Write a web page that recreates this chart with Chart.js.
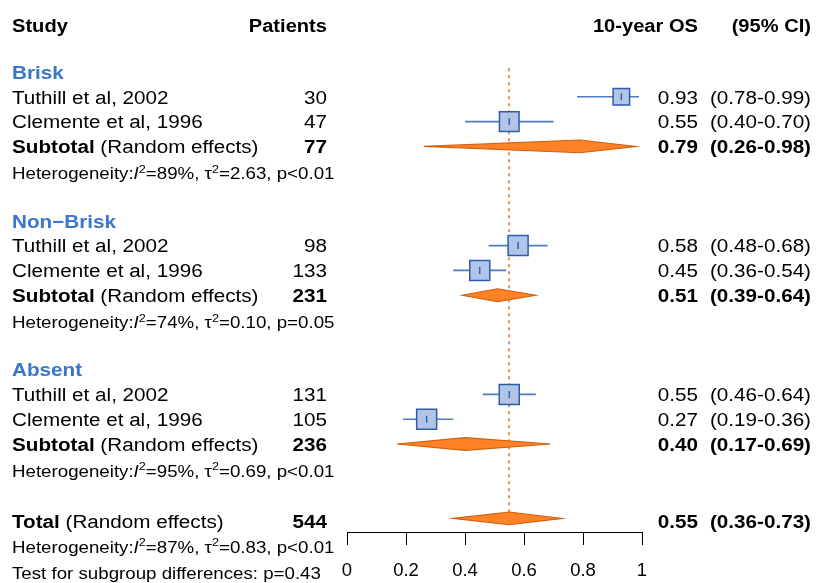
<!DOCTYPE html>
<html>
<head>
<meta charset="utf-8">
<script src="https://cdn.jsdelivr.net/npm/chart.js@4.4.1/dist/chart.umd.min.js"></script>
<style>
html,body{margin:0;padding:0;background:#fff;}
#wrap{width:816px;height:583px;}
</style>
</head>
<body>
<div id="wrap"><canvas id="c" width="816" height="583"></canvas></div>
<script>
// ---------- DATA ----------
const groups = ['Brisk', 'Non\u2212Brisk', 'Absent'];
const studies = ['Tuthill et al, 2002', 'Clemente et al, 1996'];
const patients = [[30, 47], [98, 133], [131, 105]];
const est = [[0.93, 0.55], [0.58, 0.45], [0.55, 0.27]];
const lo  = [[0.78, 0.40], [0.48, 0.36], [0.46, 0.19]];
const hi  = [[0.99, 0.70], [0.68, 0.54], [0.64, 0.36]];
const weights = [[0.68, 0.96], [1, 1], [1, 1]];
const subN = [77, 231, 236];
const subEst = [0.79, 0.51, 0.40];
const subLo = [0.26, 0.39, 0.17];
const subHi = [0.98, 0.64, 0.69];
const hetI2 = ['89', '74', '95'];
const hetTau2 = ['2.63', '0.10', '0.69'];
const hetP = ['p<0.01', 'p=0.05', 'p<0.01'];
const totalN = 544;
const totalEst = 0.55, totalLo = 0.36, totalHi = 0.73;
const totalI2 = '87', totalTau2 = '0.83', totalP = 'p<0.01';
const subgroupP = 'p=0.43';
const xTicks = [0, 0.2, 0.4, 0.6, 0.8, 1];

// ---------- LAYOUT (row indices) ----------
function groupBase(g){ return 2 + 6*g; }
const TOTAL_ROW = 20.1;

const FONT = "'Liberation Sans', Arial, Helvetica, sans-serif";
const STRETCH = 1.1;
const BLUE_HEAD = '#3a76cc';
const SQ_FILL = '#b2c5e9', SQ_LINE = '#2d5ca9', CI_LINE = '#4f7bc2';
const DIA_FILL = '#ff8226', DIA_LINE = '#d2600e';

// square points from data
const sqPoints = [], sqRadius = [];
groups.forEach((g, gi) => {
  studies.forEach((s, si) => {
    sqPoints.push({x: est[gi][si], y: groupBase(gi) + 1 + si});
    const side = 20 * Math.sqrt(weights[gi][si]);
    sqRadius.push(side / Math.SQRT2);
  });
});

function fmt2(v){ return v.toFixed(2); }

const forestPlugin = {
  id: 'forest',
  beforeDatasetsDraw(chart){
    const ctx = chart.ctx, xs = chart.scales.x, ys = chart.scales.y;
    // reference line at overall estimate
    ctx.save();
    ctx.strokeStyle = '#f07a30';
    ctx.lineWidth = 1.7;
    ctx.setLineDash([3, 4]);
    ctx.beginPath();
    const rx = Math.round(xs.getPixelForValue(totalEst));
    ctx.moveTo(rx, ys.getPixelForValue(1.85));
    ctx.lineTo(rx, ys.getPixelForValue(TOTAL_ROW));
    ctx.stroke();
    ctx.restore();
    // CI whiskers
    ctx.save();
    ctx.strokeStyle = CI_LINE;
    ctx.lineWidth = 1.6;
    groups.forEach((g, gi) => {
      studies.forEach((s, si) => {
        const y = ys.getPixelForValue(groupBase(gi) + 1 + si);
        ctx.beginPath();
        ctx.moveTo(xs.getPixelForValue(lo[gi][si]), y);
        ctx.lineTo(xs.getPixelForValue(hi[gi][si]), y);
        ctx.stroke();
      });
    });
    ctx.restore();
  },
  afterDatasetsDraw(chart){
    const ctx = chart.ctx, xs = chart.scales.x, ys = chart.scales.y;
    // small estimate ticks inside squares
    ctx.save();
    ctx.strokeStyle = SQ_LINE;
    ctx.lineWidth = 1.4;
    groups.forEach((g, gi) => {
      studies.forEach((s, si) => {
        const y = ys.getPixelForValue(groupBase(gi) + 1 + si);
        const x = xs.getPixelForValue(est[gi][si]);
        ctx.beginPath();
        ctx.moveTo(x, y - 3.5);
        ctx.lineTo(x, y + 3.5);
        ctx.stroke();
      });
    });
    ctx.restore();
    // diamonds
    function diamond(e, l, h, row){
      const y = ys.getPixelForValue(row);
      const hh = 6.4;
      ctx.save();
      ctx.fillStyle = DIA_FILL;
      ctx.strokeStyle = DIA_LINE;
      ctx.lineWidth = 1.1;
      ctx.beginPath();
      ctx.moveTo(xs.getPixelForValue(l), y);
      ctx.lineTo(xs.getPixelForValue(e), y - hh);
      ctx.lineTo(xs.getPixelForValue(h), y);
      ctx.lineTo(xs.getPixelForValue(e), y + hh);
      ctx.closePath();
      ctx.fill();
      ctx.stroke();
      ctx.restore();
    }
    groups.forEach((g, gi) => diamond(subEst[gi], subLo[gi], subHi[gi], groupBase(gi) + 3));
    diamond(totalEst, totalLo, totalHi, TOTAL_ROW - 0.1);
  },
  afterDraw(chart){
    const ctx = chart.ctx, ys = chart.scales.y;
    const X_LEFT = 12, X_PAT = 327, X_EST = 698, X_CI = 811;
    function baseY(row){ return ys.getPixelForValue(row) + 6.8; }
    function txt(s, x, row, opt){
      opt = opt || {};
      const size = opt.size || 18.8;
      ctx.save();
      ctx.font = (opt.italic ? 'italic ' : '') + (opt.bold ? 'bold ' : '') + size + 'px ' + FONT;
      ctx.fillStyle = opt.color || '#000';
      ctx.textAlign = opt.align || 'left';
      ctx.textBaseline = 'alphabetic';
      ctx.translate(x, baseY(row) + (opt.dy || 0));
      ctx.scale(STRETCH, 1);
      ctx.fillText(s, 0, 0);
      const w = ctx.measureText(s).width * STRETCH;
      ctx.restore();
      return w;
    }
    function runs(parts, x, row){
      let cx = x;
      parts.forEach(p => { cx += txt(p.t, cx, row, p); });
    }
    // header
    const hr = 0.12;
    txt('Study', X_LEFT, hr, {bold: true, size: 18.3});
    txt('Patients', X_PAT, hr, {bold: true, size: 18.3, align: 'right'});
    txt('10-year OS', X_EST, hr, {bold: true, size: 18.3, align: 'right'});
    txt('(95% CI)', X_CI, hr, {bold: true, size: 18.3, align: 'right'});

    function het(row, i2, tau2, p){
      const s = 17, ss = 11.5;
      runs([
        {t: 'Heterogeneity:', size: s},
        {t: 'I', size: s, italic: true},
        {t: '2', size: ss, dy: -6.5},
        {t: '=' + i2 + '%, ', size: s},
        {t: '\u03C4', size: s},
        {t: '2', size: ss, dy: -6.5},
        {t: '=' + tau2 + ', ' + p, size: s}
      ], X_LEFT, row);
    }

    groups.forEach((g, gi) => {
      const b = groupBase(gi);
      txt(g, X_LEFT, b, {bold: true, color: BLUE_HEAD});
      studies.forEach((s, si) => {
        const r = b + 1 + si;
        txt(s, X_LEFT, r);
        txt(String(patients[gi][si]), X_PAT, r, {align: 'right'});
        txt(fmt2(est[gi][si]), X_EST, r, {align: 'right'});
        txt('(' + fmt2(lo[gi][si]) + '-' + fmt2(hi[gi][si]) + ')', X_CI, r, {align: 'right'});
      });
      const sr = b + 3;
      runs([{t: 'Subtotal', bold: true}, {t: ' (Random effects)'}], X_LEFT, sr);
      txt(String(subN[gi]), X_PAT, sr, {align: 'right', bold: true});
      txt(fmt2(subEst[gi]), X_EST, sr, {align: 'right', bold: true});
      txt('(' + fmt2(subLo[gi]) + '-' + fmt2(subHi[gi]) + ')', X_CI, sr, {align: 'right', bold: true});
      het(b + 4.05, hetI2[gi], hetTau2[gi], hetP[gi]);
    });
    // total
    runs([{t: 'Total', bold: true}, {t: ' (Random effects)'}], X_LEFT, TOTAL_ROW);
    txt(String(totalN), X_PAT, TOTAL_ROW, {align: 'right', bold: true});
    txt(fmt2(totalEst), X_EST, TOTAL_ROW, {align: 'right', bold: true});
    txt('(' + fmt2(totalLo) + '-' + fmt2(totalHi) + ')', X_CI, TOTAL_ROW, {align: 'right', bold: true});
    het(TOTAL_ROW + 1.02, totalI2, totalTau2, totalP);
    txt('Test for subgroup differences: ' + subgroupP, X_LEFT, TOTAL_ROW + 2.05, {size: 17});
  }
};

const yMin = -0.903, yMax = 20.548;

new Chart(document.getElementById('c'), {
  type: 'scatter',
  data: {
    datasets: [{
      data: sqPoints,
      pointStyle: 'rect',
      pointRadius: sqRadius,
      pointHoverRadius: sqRadius,
      backgroundColor: SQ_FILL,
      borderColor: SQ_LINE,
      borderWidth: 1.5,
      clip: false
    }]
  },
  options: {
    responsive: false,
    animation: false,
    events: [],
    layout: {autoPadding: false, padding: {left: 347, right: 174, top: 0, bottom: 0}},
    plugins: {legend: {display: false}, tooltip: {enabled: false}},
    scales: {
      x: {
        type: 'linear', position: 'bottom', min: 0, max: 1,
        afterBuildTicks: s => { s.ticks = xTicks.map(v => ({value: v})); },
        afterFit: s => { s.height = 51; },
        ticks: {
          color: '#000', padding: 15, maxRotation: 0, autoSkip: false,
          font: {family: FONT, size: 18.5},
          callback: v => String(v)
        },
        grid: {drawOnChartArea: false, drawTicks: true, tickLength: 13, color: '#000', lineWidth: 1},
        border: {display: true, color: '#000', width: 1}
      },
      y: {type: 'linear', reverse: true, min: yMin, max: yMax, display: false}
    }
  },
  plugins: [forestPlugin]
});
</script>
</body>
</html>
